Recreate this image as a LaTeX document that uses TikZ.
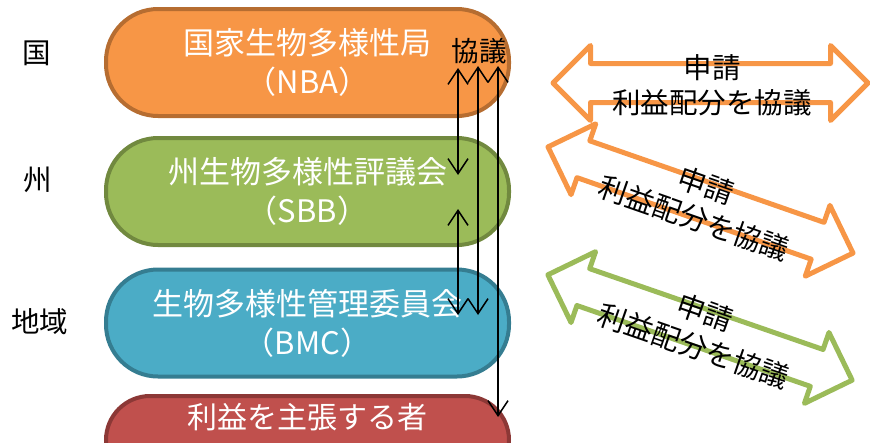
\documentclass[tikz,border=0pt]{standalone}
\usepackage{fontspec}
\setmainfont{Noto Sans CJK JP}
\usetikzlibrary{arrows.meta}
\definecolor{orF}{HTML}{F79646}
\definecolor{orD}{HTML}{B66D31}
\definecolor{grF}{HTML}{9BBB59}
\definecolor{grD}{HTML}{71893F}
\definecolor{blF}{HTML}{4BACC6}
\definecolor{blD}{HTML}{357D91}
\definecolor{rdF}{HTML}{C0504D}
\definecolor{rdD}{HTML}{8C3836}
\begin{document}
\begin{tikzpicture}[x=1pt,y=-1pt,
  pill/.style={draw, line width=4pt, rounded corners=52pt, minimum width=403pt,
    minimum height=107pt, text=white, font=\fontsize{31}{39}\selectfont,
    align=center, inner sep=0pt},
  lvl/.style={font=\fontsize{28.5}{30}\selectfont, inner sep=0pt},
  vtip/.style={{Straight Barb[length=15pt,width=20pt]}-{Straight Barb[length=15pt,width=20pt]}, line width=1.5pt},
  blk/.style={line width=5pt, line join=round},
  blktxt/.style={font=\fontsize{28.5}{35}\selectfont, align=center, inner sep=0pt}
]
\useasboundingbox (0,0) rectangle (870,442);

% level labels
\node[lvl] (lN) at (37,53) {国};
\node[lvl] (lS) at (38,180) {州};
\node[lvl] (lL) at (40,322) {地域};

% pills
\node[pill, draw=orD, fill=orF] (nba) at (307.5,62.5) {国家生物多様性局\\（NBA）};
\node[pill, draw=grD, fill=grF] (sbb) at (307.5,191.5) {州生物多様性評議会\\（SBB）};
\node[pill, draw=blD, fill=blF] (bmc) at (307.5,323) {生物多様性管理委員会\\（BMC）};
\node[pill, draw=rdD, fill=rdF, minimum height=88pt, rounded corners=44pt] (stk) at (307.5,440) {};
\node[font=\fontsize{30}{38}\selectfont, text=white, inner sep=0pt] (stktxt) at (307.5,417) {利益を主張する者};

% consultation arrows
\node[font=\fontsize{27.5}{30}\selectfont, inner sep=0pt] (kyogi) at (479,51) {協議};
\coordinate (a1s) at (458,68);
\coordinate (a1e) at (458,175);
\coordinate (a2s) at (458,209);
\coordinate (a2e) at (458,315);
\coordinate (a3s) at (478,66);
\coordinate (a3e) at (478,315);
\coordinate (a4s) at (498,66);
\coordinate (a4e) at (498,417);
\draw[vtip] (a1s) -- (a1e);
\draw[vtip] (a2s) -- (a2e);
\draw[vtip] (a3s) -- (a3e);
\draw[vtip] (a4s) -- (a4e);

% block double arrows
\begin{scope}[shift={(710.5,83)}]
  \draw[blk, orF] (-157.5,0) -- (-120,-37.5) -- (-120,-19.5) -- (120,-19.5) -- (120,-37.5) -- (157.5,0)
    -- (120,37.5) -- (120,19.5) -- (-120,19.5) -- (-120,37.5) -- cycle;
  \node[blktxt] (t1) at (1.5,2) {申請\\利益配分を協議};
\end{scope}
\begin{scope}[shift={(700.5,200)}, rotate=-19.2]
  \draw[blk, orF] (-161.5,0) -- (-124,-37.5) -- (-124,-19.5) -- (124,-19.5) -- (124,-37.5) -- (161.5,0)
    -- (124,37.5) -- (124,19.5) -- (-124,19.5) -- (-124,37.5) -- cycle;
  \node[blktxt, rotate=-19.2] (t2) at (0,2) {申請\\利益配分を協議};
\end{scope}
\begin{scope}[shift={(700,327.5)}, rotate=-19.1]
  \draw[blk, grF] (-161,0) -- (-123.5,-37.5) -- (-123.5,-19.5) -- (123.5,-19.5) -- (123.5,-37.5) -- (161,0)
    -- (123.5,37.5) -- (123.5,19.5) -- (-123.5,19.5) -- (-123.5,37.5) -- cycle;
  \node[blktxt, rotate=-19.1] (t3) at (0,2) {申請\\利益配分を協議};
\end{scope}
\end{tikzpicture}
\end{document}
